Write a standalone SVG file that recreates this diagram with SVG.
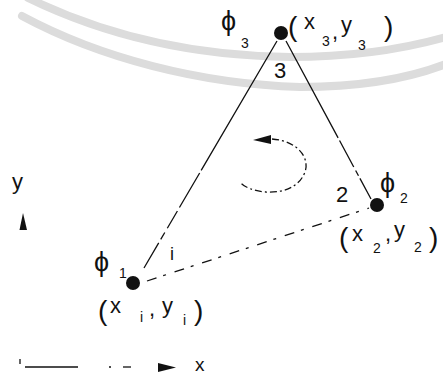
<svg xmlns="http://www.w3.org/2000/svg" width="443" height="375" viewBox="0 0 443 375">
<style>
.t{font-family:"Liberation Sans","DejaVu Sans",sans-serif;fill:#111;font-size:22px}
.s{font-size:14px}
.p{font-size:28px}
.ph{font-size:27px}
.ln{stroke:#111;stroke-width:1.3;fill:none}
.wm{stroke:#dcdcdc;stroke-width:8;fill:none;stroke-linecap:round}
.dot{fill:#111}
</style>
<rect width="443" height="375" fill="#fff"/>
<g id="watermark">
<path class="wm" d="M28,-2 C110,38 200,56 290,57 C350,57 400,50 446,37"/>
<path class="wm" d="M22,16 C100,58 200,84 300,87 C360,87 410,78 446,64"/>
</g>
<g id="connectors">
<path class="ln" d="M277,41 L144,268" stroke-dasharray="150 3 40 4 20 5 8 4 30"/>
<path class="ln" d="M286,41 L371,199" stroke-dasharray="110 3 30 4 6 3 30"/>
<path class="ln" d="M147,281 L369,208" stroke-dasharray="10 7 3 9"/>
<path class="ln" d="M272,139 C298,141 310,158 305,172 C299,188 282,193 266,192 C253,191 244,187 240,182" stroke-dasharray="7 3 2 3"/>
<polygon class="dot" points="253,140 271,135 271,144"/>
</g>
<g id="node3">
<circle class="dot" cx="281" cy="33" r="7"/>
<text class="t ph" x="221" y="30">ϕ</text>
<text class="t s" x="241" y="48">3</text>
<text class="t" x="274" y="78">3</text>
<text class="t"><tspan class="p" x="288" y="36">(</tspan><tspan x="304" y="29">x</tspan><tspan class="s" x="322" y="46">3</tspan><tspan x="332" y="39">,</tspan><tspan x="341" y="32">y</tspan><tspan class="s" x="358" y="50">3</tspan><tspan class="p" x="384" y="36">)</tspan></text>
</g>
<g id="node2">
<circle class="dot" cx="377" cy="205" r="7"/>
<text class="t" x="336" y="202">2</text>
<text class="t ph" x="380" y="192">ϕ</text>
<text class="t s" x="400" y="203">2</text>
<text class="t"><tspan class="p" x="339" y="247">(</tspan><tspan x="352" y="241">x</tspan><tspan class="s" x="373" y="253">2</tspan><tspan x="385" y="241">,</tspan><tspan x="394" y="237">y</tspan><tspan class="s" x="414" y="252">2</tspan><tspan class="p" x="429" y="247">)</tspan></text>
</g>
<g id="node1">
<circle class="dot" cx="133" cy="283" r="7"/>
<text class="t ph" x="94" y="271">ϕ</text>
<text class="t s" x="119" y="278">1</text>
<text class="t" x="170" y="260" style="font-size:18px">i</text>
<text class="t"><tspan class="p" x="98" y="320">(</tspan><tspan x="110" y="313">x</tspan><tspan class="s" x="140" y="322">i</tspan><tspan x="149" y="316">,</tspan><tspan x="162" y="313">y</tspan><tspan class="s" x="183" y="325">i</tspan><tspan class="p" x="194" y="320">)</tspan></text>
</g>
<g id="axes">
<text class="t" x="12" y="189">y</text>
<polygon class="dot" points="23,213 19.5,230 27,230"/>
<line class="ln" x1="20" y1="359" x2="20" y2="364"/>
<line class="ln" x1="25" y1="367" x2="78" y2="367"/>
<line class="ln" x1="109" y1="367" x2="111" y2="367"/>
<line class="ln" x1="123" y1="367" x2="131" y2="367"/>
<polygon class="dot" points="158,363 176,367.5 158,372"/>
<text class="t" x="195" y="371" style="font-size:19px">x</text>
</g>
</svg>
